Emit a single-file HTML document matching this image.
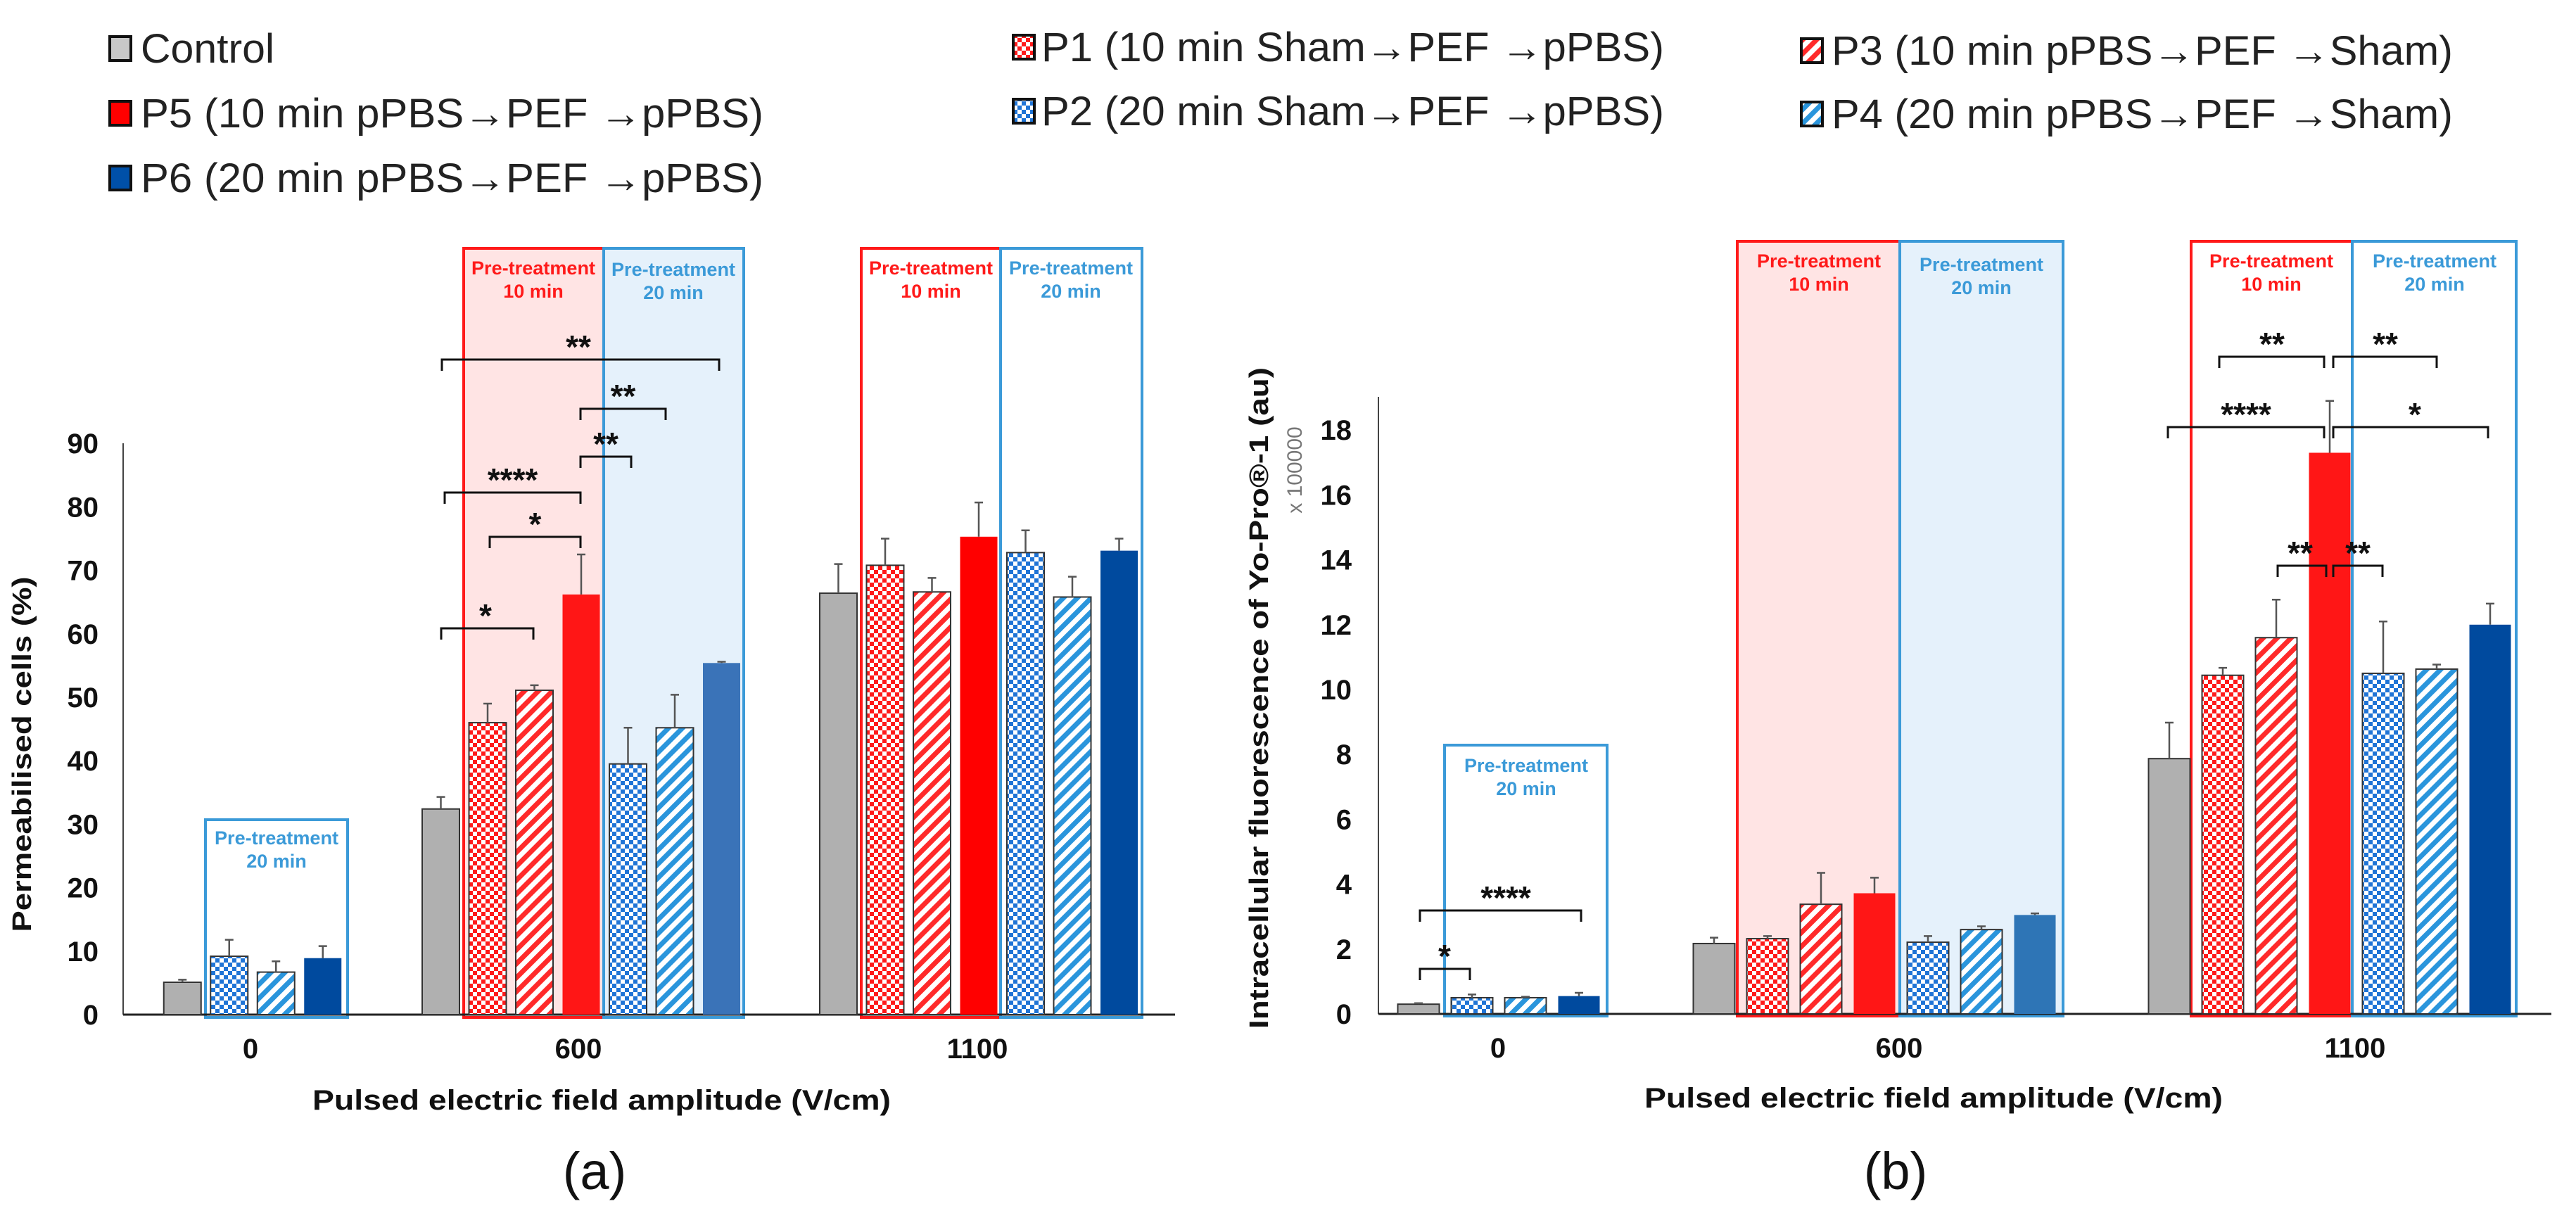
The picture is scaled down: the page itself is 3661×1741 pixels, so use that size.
<!DOCTYPE html>
<html><head><meta charset="utf-8"><style>
html,body{margin:0;padding:0;background:#fff}
svg{display:block}
text{font-family:"Liberation Sans",Arial,sans-serif}
</style></head><body>
<svg id="fig" width="3661" height="1741" viewBox="0 0 3661 1741" xmlns="http://www.w3.org/2000/svg">
<defs>
<pattern id="chkR" width="12" height="12" patternUnits="userSpaceOnUse"><rect width="12" height="12" fill="#fff"/><rect width="6" height="6" fill="#ff1a1a"/><rect x="6" y="6" width="6" height="6" fill="#ff1a1a"/></pattern>
<pattern id="chkB" width="12" height="12" patternUnits="userSpaceOnUse"><rect width="12" height="12" fill="#fff"/><rect width="6" height="6" fill="#1f74d6"/><rect x="6" y="6" width="6" height="6" fill="#1f74d6"/></pattern>
<pattern id="strR" width="14" height="14" patternUnits="userSpaceOnUse" patternTransform="rotate(45)"><rect width="14" height="14" fill="#fff"/><rect width="7" height="14" fill="#ff2a2a"/></pattern>
<pattern id="strB" width="14" height="14" patternUnits="userSpaceOnUse" patternTransform="rotate(45)"><rect width="14" height="14" fill="#fff"/><rect width="7" height="14" fill="#2a95dc"/></pattern>
</defs>

<g>
<g><rect x="156" y="52" width="30" height="34" fill="#c8c8c8" stroke="#111" stroke-width="4"/><text x="200" y="89" font-size="58" textLength="190" lengthAdjust="spacingAndGlyphs" fill="#222">Control</text></g>
<g><rect x="156" y="144" width="30" height="34" fill="#f00" stroke="#111" stroke-width="4"/><text x="200" y="181" font-size="58" textLength="885" lengthAdjust="spacingAndGlyphs" fill="#222">P5 (10 min pPBS→PEF →pPBS)</text></g>
<g><rect x="156" y="236" width="30" height="34" fill="#0050a8" stroke="#111" stroke-width="4"/><text x="200" y="273" font-size="58" textLength="885" lengthAdjust="spacingAndGlyphs" fill="#222">P6 (20 min pPBS→PEF →pPBS)</text></g>
<g><rect x="1440" y="50" width="30" height="34" fill="url(#chkR)" stroke="#111" stroke-width="4"/><text x="1480" y="87" font-size="58" textLength="885" lengthAdjust="spacingAndGlyphs" fill="#222">P1 (10 min Sham→PEF →pPBS)</text></g>
<g><rect x="1440" y="141" width="30" height="34" fill="url(#chkB)" stroke="#111" stroke-width="4"/><text x="1480" y="178" font-size="58" textLength="885" lengthAdjust="spacingAndGlyphs" fill="#222">P2 (20 min Sham→PEF →pPBS)</text></g>
<g><rect x="2560" y="55" width="30" height="34" fill="url(#strR)" stroke="#111" stroke-width="4"/><text x="2603" y="92" font-size="58" textLength="883" lengthAdjust="spacingAndGlyphs" fill="#222">P3 (10 min pPBS→PEF →Sham)</text></g>
<g><rect x="2560" y="145" width="30" height="34" fill="url(#strB)" stroke="#111" stroke-width="4"/><text x="2603" y="182" font-size="58" textLength="883" lengthAdjust="spacingAndGlyphs" fill="#222">P4 (20 min pPBS→PEF →Sham)</text></g>
</g>

<g id="panelA"></g>
<g id="panelB"></g>
</svg>
<script>
// ---------- DATA ----------
const categories = ['0','600','1100'];
const seriesNames = ['Control','P1','P3','P5','P2','P4','P6'];
// Panel (a) Permeabilised cells (%)
const aCtrl = [5.1, 32.4, 66.4];
const aP1   = [null, 46.0, 70.8];
const aP3   = [null, 51.1, 66.6];
const aP5   = [null, 66.2, 75.3];
const aP2   = [9.2, 39.5, 72.8];
const aP4   = [6.7, 45.2, 65.8];
const aP6   = [8.9, 55.4, 73.1];
const aErrCtrl = [0.4, 1.9, 4.6];
const aErrP1   = [null, 3.0, 4.2];
const aErrP3   = [null, 0.8, 2.2];
const aErrP5   = [null, 6.3, 5.4];
const aErrP2   = [2.6, 5.7, 3.5];
const aErrP4   = [1.7, 5.2, 3.2];
const aErrP6   = [1.9, 0.2, 1.9];
const aTicks = [0,10,20,30,40,50,60,70,80,90];
// Panel (b) Intracellular fluorescence (x100000 au)
const bCtrl = [0.3, 2.17, 7.87];
const bP1   = [null, 2.32, 10.44];
const bP3   = [null, 3.38, 11.6];
const bP5   = [null, 3.72, 17.3];
const bP2   = [0.5, 2.21, 10.5];
const bP4   = [0.5, 2.6, 10.63];
const bP6   = [0.55, 3.05, 12.0];
const bErrCtrl = [0.03, 0.18, 1.11];
const bErrP1   = [null, 0.08, 0.23];
const bErrP3   = [null, 0.97, 1.17];
const bErrP5   = [null, 0.48, 1.6];
const bErrP2   = [0.1, 0.19, 1.6];
const bErrP4   = [0.03, 0.1, 0.14];
const bErrP6   = [0.1, 0.05, 0.65];
const bTicks = [0,2,4,6,8,10,12,14,16,18];

const NS='http://www.w3.org/2000/svg';
function mk(parent, tag, attrs, txt){const e=document.createElementNS(NS,tag);for(const k in attrs)e.setAttribute(k,attrs[k]);if(txt!==undefined)e.textContent=txt;parent.appendChild(e);return e;}
function fillFor(s, gi, panel){
  if(s==='Control')return '#b0b0b0';
  if(s==='P1')return 'url(#chkR)';
  if(s==='P3')return 'url(#strR)';
  if(s==='P5')return (panel==='a'&&gi===2)?'#ff0000':'#ff1616';
  if(s==='P2')return 'url(#chkB)';
  if(s==='P4')return 'url(#strB)';
  if(s==='P6')return gi===1?(panel==='a'?'#3a73b8':'#2e75b6'):'#004a9e';
}

function drawPanel(cfg){
  const g=cfg.g;
  const y=v=>cfg.y0 - v*cfg.k;
  cfg.boxes.forEach(b=>{
    const r=mk(g,'rect',{x:b[0],y:b[1],width:b[2]-b[0],height:b[3]-b[1],fill:b[5]?b[5]:'none',stroke:b[4],'stroke-width':4});
    
    
  });
  const ax=mk(g,'line',{x1:cfg.xAxis,y1:cfg.yTop,x2:cfg.xAxis,y2:cfg.y0,stroke:'#444','stroke-width':2});
  
  
  const xl=mk(g,'line',{x1:cfg.xAxis,y1:cfg.y0,x2:cfg.xEnd,y2:cfg.y0,stroke:'#222','stroke-width':3});
  
  
  cfg.ticks.forEach(t=>{
    const tx=mk(g,'text',{x:cfg.tickX,y:y(t)+14,'font-size':40,'font-weight':'bold','text-anchor':'end',fill:'#111'},String(t));
    
    
  });
  categories.forEach((c,gi)=>{
    const present=[];
    seriesNames.forEach((s,si)=>{if(cfg.vals[si][gi]!==null)present.push(si);});
    const n=present.length;
    present.forEach((si,j)=>{
      const cx=cfg.centers[gi]+(j-(n-1)/2)*cfg.sp;
      const v=cfg.vals[si][gi], e=cfg.errs[si][gi];
      const s=seriesNames[si];
      const top=y(v);
      const solid=(s==='P5'||s==='P6');
      const r=mk(g,'rect',{x:cx-cfg.bw/2,y:top,width:cfg.bw,height:cfg.y0-top,fill:fillFor(s,gi,cfg.panel),stroke:solid?'none':'#333','stroke-width':2});
      
      
      const et=y(v+e);
      const el=mk(g,'path',{d:`M${cx} ${top} V${et} M${cx-6} ${et} H${cx+6}`,stroke:'#555','stroke-width':2.5,fill:'none'});
      
      
    });
    const lb=mk(g,'text',{x:cfg.labelX[gi],y:cfg.y0+62,'font-size':40,'font-weight':'bold','text-anchor':'middle',fill:'#111'},c);
    
    
  });
  cfg.boxLabels.forEach(b=>{
    const t1=mk(g,'text',{x:b[0],y:b[1],'font-size':27,'font-weight':'bold','text-anchor':'middle',fill:b[2],textLength:176,lengthAdjust:'spacingAndGlyphs'},'Pre-treatment');
    
    
    const t2=mk(g,'text',{x:b[0],y:b[1]+33,'font-size':27,'font-weight':'bold','text-anchor':'middle',fill:b[2]},b[3]);
    
    
  });
  cfg.brackets.forEach(b=>{
    const p=mk(g,'path',{d:`M${b[0]} ${b[2]+16} V${b[2]} H${b[1]} V${b[2]+16}`,stroke:'#111','stroke-width':3,fill:'none'});
    
    
    const t=mk(g,'text',{x:b[4]!==undefined?b[4]:(b[0]+b[1])/2,y:b[2]-2,'font-size':46,'font-weight':'bold','text-anchor':'middle',fill:'#111'},b[3]);
    
    
  });
  const yt=mk(g,'text',{transform:`translate(${cfg.yTitle[0]},${cfg.yTitle[1]}) rotate(-90)`,'font-size':38,'font-weight':'bold','text-anchor':'middle',fill:'#111',textLength:cfg.yTitle[3],lengthAdjust:'spacingAndGlyphs'},cfg.yTitle[2]);
  
  
  const xt=mk(g,'text',{x:cfg.xTitle[0],y:cfg.xTitle[1],'font-size':40,'font-weight':'bold','text-anchor':'middle',fill:'#111',textLength:822,lengthAdjust:'spacingAndGlyphs'},'Pulsed electric field amplitude (V/cm)');
  
  
  const pl=mk(g,'text',{x:cfg.plabel[0],y:cfg.plabel[1],'font-size':74,'text-anchor':'middle',fill:'#111','font-family':'Liberation Serif, serif'},cfg.plabel[2]);
  
  
}

const RED='#ff1a1a', BLU='#3b9ad8';
drawPanel({
  panel:'a', g:document.getElementById('panelA'),
  y0:1442, k:9.02, yTop:630, xAxis:175, xEnd:1670, tickX:140, ticks:aTicks,
  centers:[359,826,1391], labelX:[356,822,1389], sp:66.5, bw:53,
  vals:[aCtrl,aP1,aP3,aP5,aP2,aP4,aP6], errs:[aErrCtrl,aErrP1,aErrP3,aErrP5,aErrP2,aErrP4,aErrP6],
  boxes:[[659,353,858,1446,RED,'#ffe4e4','pretreatment-10min-box-600'],[858,353,1057,1446,BLU,'#e5f1fb','pretreatment-20min-box-600'],
         [1224,353,1422,1446,RED,null,'pretreatment-10min-box-1100'],[1422,353,1623,1446,BLU,null,'pretreatment-20min-box-1100'],
         [292,1165,494,1446,BLU,null,'pretreatment-20min-box-0']],
  boxLabels:[[758,390,RED,'10 min'],[957,392,BLU,'20 min'],[1323,390,RED,'10 min'],[1522,390,BLU,'20 min'],[393,1200,BLU,'20 min']],
  brackets:[[628,1022,511,'**',822],[825,946,581,'**'],[825,897,649,'**',861],[632,825,700,'****'],[696,825,763,'*'],[627,758,893,'*',690]],
  yTitle:[44,1072,'Permeabilised cells (%)',505], xTitle:[855,1577], plabel:[845,1690,'(a)']
});
drawPanel({
  panel:'b', g:document.getElementById('panelB'),
  y0:1441, k:46.1, yTop:564, xAxis:1959, xEnd:3626, tickX:1921, ticks:bTicks,
  centers:[2130,2664,3311], labelX:[2129,2699,3347], sp:76, bw:59,
  vals:[bCtrl,bP1,bP3,bP5,bP2,bP4,bP6], errs:[bErrCtrl,bErrP1,bErrP3,bErrP5,bErrP2,bErrP4,bErrP6],
  boxes:[[2469,343,2700,1444,RED,'#ffe4e4','pretreatment-10min-box-600'],[2700,343,2932,1444,BLU,'#e5f1fb','pretreatment-20min-box-600'],
         [3114,343,3343,1444,RED,null,'pretreatment-10min-box-1100'],[3343,343,3576,1444,BLU,null,'pretreatment-20min-box-1100'],
         [2053,1059,2284,1444,BLU,null,'pretreatment-20min-box-0']],
  boxLabels:[[2585,380,RED,'10 min'],[2816,385,BLU,'20 min'],[3228,380,RED,'10 min'],[3460,380,BLU,'20 min'],[2169,1097,BLU,'20 min']],
  brackets:[[3154,3303,507,'**',3229],[3316,3463,507,'**',3390],[3081,3303,607,'****',3192],[3316,3536,607,'*',3432],
            [3237,3306,804,'**',3269],[3316,3386,804,'**',3351],[2018,2247,1294,'****',2140],[2018,2089,1377,'*',2053]],
  yTitle:[1802,992,'Intracellular fluorescence of Yo-Pro®-1 (au)',940], xTitle:[2748,1574], plabel:[2694,1690,'(b)']
});
const sc=document.createElementNS(NS,'text');
sc.setAttribute('transform','translate(1850,668) rotate(-90)');
sc.setAttribute('font-size','30');
sc.setAttribute('fill','#777');
sc.setAttribute('text-anchor','middle');
sc.textContent='x 100000';


document.getElementById('panelB').appendChild(sc);
</script>
</body></html>
